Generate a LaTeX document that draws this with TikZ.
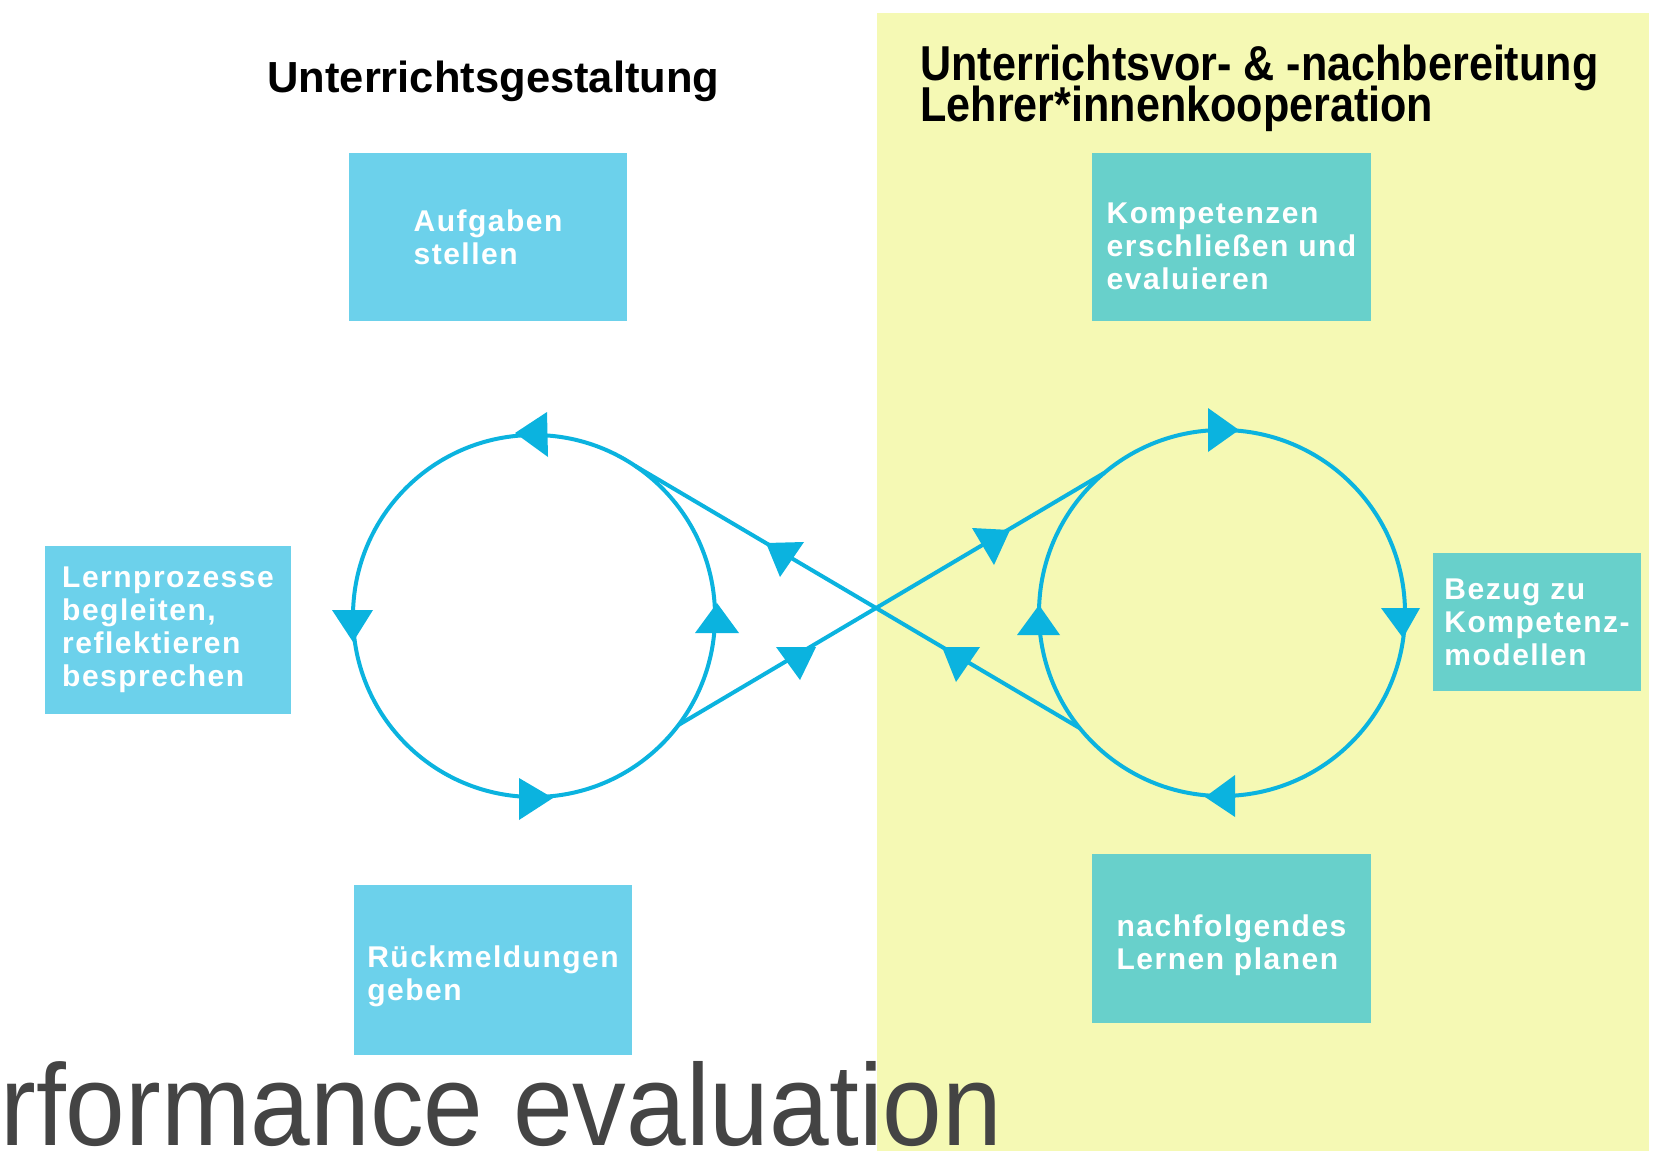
\documentclass[tikz,border=0pt]{standalone}
\usepackage{fontspec}
\setmainfont{Liberation Sans}
\newfontfamily\boxfont[LetterSpace=5]{Liberation Sans}
\newfontfamily\narrowfont[FakeStretch=0.88]{Liberation Sans}
\newfontfamily\slidefont[FakeStretch=0.925]{Liberation Sans}
\usetikzlibrary{positioning}
\definecolor{loopblue}{HTML}{0BB3DF}
\definecolor{cyanbox}{HTML}{6CD1EB}
\definecolor{tealbox}{HTML}{68D0CB}
\definecolor{paleyellow}{HTML}{F5F9B4}
\definecolor{slidegray}{HTML}{444444}

\begin{document}
\begin{tikzpicture}[x=0.5pt,y=-0.5pt,
  tasktext/.style={inner sep=0pt, align=left, text=white,
    font=\boxfont\bfseries\fontsize{15pt}{16.5pt}\selectfont},
  task/.style={rectangle, tasktext},
  lefttask/.style={task, fill=cyanbox},
  righttask/.style={task, fill=tealbox},
  ring/.style={circle, draw=loopblue, line width=2pt, inner sep=0pt, outer sep=0pt},
  link/.style={draw=loopblue, line width=2pt},
  title/.style={inner sep=0pt, align=left, font=\bfseries\fontsize{21.75pt}{26pt}\selectfont}]

  \useasboundingbox (0,0) rectangle (1674,1151);
  \fill[paleyellow] (877,13) rectangle (1649,1151);

  % Unterrichtsgestaltung
  \node[lefttask, minimum width=139pt, minimum height=84pt] (auf) at (488,237) {Aufgaben\\stellen};
  \node[lefttask, minimum width=123pt, minimum height=84pt] (lern) at (168,630) {Lernprozesse\\begleiten,\\reflektieren\\besprechen};
  \node[lefttask, minimum width=139pt, minimum height=85pt,
    label={[tasktext, yshift=-3pt]center:{Rückmeldungen\\geben}}] (rueck) at (493,970) {};

  % Vor- und Nachbereitung
  \node[righttask, minimum width=139.5pt, minimum height=84pt,
    label={[tasktext, yshift=-4.5pt]center:{Kompetenzen\\erschließen und\\evaluieren}}] (komp) at (1231.5,237) {};
  \node[righttask, minimum width=104pt, minimum height=69pt] (bezug) at (1537,622) {Bezug zu\\Kompetenz-\\modellen};
  \node[righttask, minimum width=139.5pt, minimum height=84.5pt,
    label={[tasktext, yshift=-3.5pt]center:{nachfolgendes\\Lernen planen}}] (nach) at (1231.5,938.5) {};

  \node[ring, minimum size=181pt] (lc) at (534,616) {};
  \node[ring, minimum size=183pt] (rc) at (1222,613) {};
  \draw[link] (lc.56) -- (rc.-141) (lc.-37) -- (rc.130);

  \foreach \p/\q/\r in {
      {(515,433)}/{(547,412)}/{(548,457)}, {(332,610)}/{(373,610)}/{(353,642)},
      {(695,633)}/{(739,633)}/{(717,603)}, {(519,778)}/{(519,820)}/{(553,798)},
      {(766,543)}/{(804,542)}/{(780,577)}, {(776,647)}/{(816,647)}/{(800,680)},
      {(1208,408)}/{(1208,452)}/{(1239,430)}, {(1381,608)}/{(1420,608)}/{(1403,638)},
      {(1235,775)}/{(1235,817)}/{(1205,797)}, {(1017,635)}/{(1060,635)}/{(1039,605)},
      {(972,528)}/{(1010,530)}/{(994,565)}, {(942,647)}/{(980,647)}/{(956,682)}}
    \fill[loopblue] \p -- \q -- \r -- cycle;

  \node[title, anchor=base west] (gest) at (267,92) {Unterrichtsgestaltung};
  \node[title, anchor=base west,
    font={\narrowfont\bfseries\fontsize{24.5pt}{20.5pt}\selectfont\lineskiplimit -50pt\relax}] (vor) at (920,121)
    {Unterrichtsvor- \& -nachbereitung\\Lehrer*innenkooperation};

  \node[anchor=base west, inner sep=0pt, text=slidegray,
    font=\slidefont\fontsize{58pt}{60pt}\selectfont] (eval) at (0,1145) {rformance evaluation};
\end{tikzpicture}
\end{document}
